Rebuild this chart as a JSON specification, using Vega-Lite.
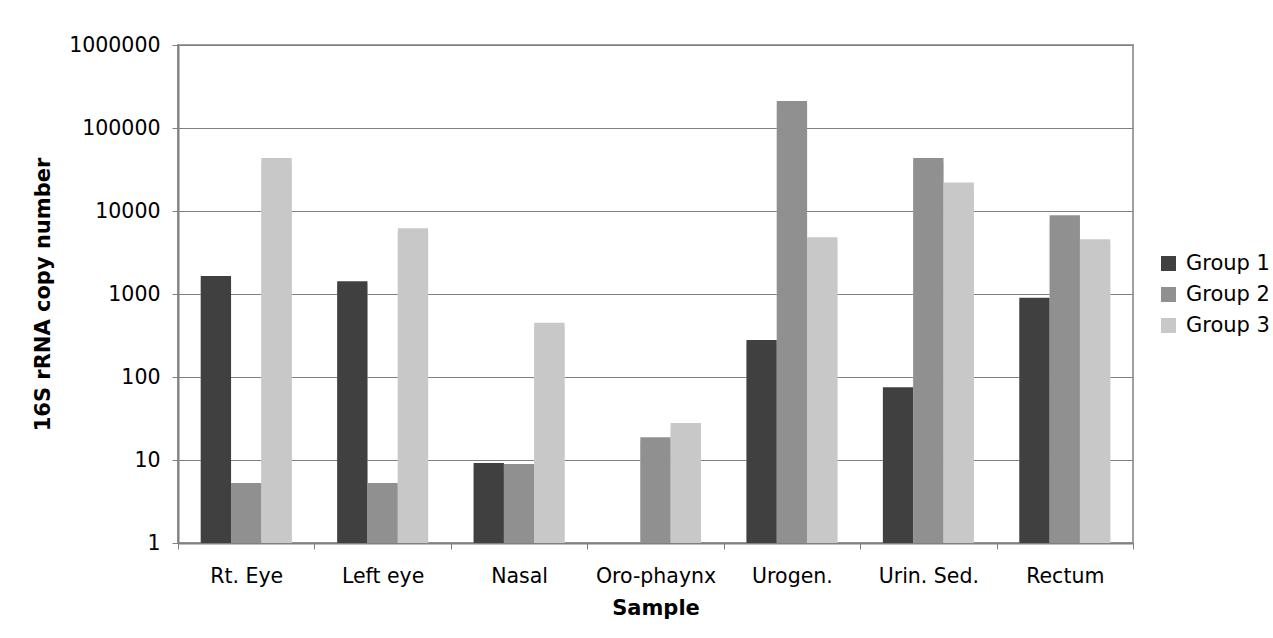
{
  "$schema": "https://vega.github.io/schema/vega-lite/v6.json",
  "width": 955,
  "height": 498,
  "autosize": {"type": "none"},
  "padding": {"left": 178, "top": 45, "right": 140, "bottom": 95},
  "background": "white",
  "config": {
    "font": "DejaVu Sans",
    "view": {"stroke": "#a0a0a0", "strokeWidth": 2},
    "axis": {"labelFont": "DejaVu Sans", "titleFont": "DejaVu Sans"}
  },
  "data": {
    "values": [
      {"sample": "Rt. Eye", "group": "Group 1", "value": 1650},
      {"sample": "Rt. Eye", "group": "Group 2", "value": 5.3},
      {"sample": "Rt. Eye", "group": "Group 3", "value": 43500},
      {"sample": "Left eye", "group": "Group 1", "value": 1420},
      {"sample": "Left eye", "group": "Group 2", "value": 5.3},
      {"sample": "Left eye", "group": "Group 3", "value": 6190},
      {"sample": "Nasal", "group": "Group 1", "value": 9.2},
      {"sample": "Nasal", "group": "Group 2", "value": 8.95},
      {"sample": "Nasal", "group": "Group 3", "value": 451},
      {"sample": "Oro-phaynx", "group": "Group 2", "value": 18.8},
      {"sample": "Oro-phaynx", "group": "Group 3", "value": 27.9},
      {"sample": "Urogen.", "group": "Group 1", "value": 279},
      {"sample": "Urogen.", "group": "Group 2", "value": 211000},
      {"sample": "Urogen.", "group": "Group 3", "value": 4820},
      {"sample": "Urin. Sed.", "group": "Group 1", "value": 75},
      {"sample": "Urin. Sed.", "group": "Group 2", "value": 43500},
      {"sample": "Urin. Sed.", "group": "Group 3", "value": 22100},
      {"sample": "Rectum", "group": "Group 1", "value": 903},
      {"sample": "Rectum", "group": "Group 2", "value": 8870},
      {"sample": "Rectum", "group": "Group 3", "value": 4560}
    ]
  },
  "encoding": {
    "x": {
      "field": "sample",
      "type": "nominal",
      "sort": ["Rt. Eye", "Left eye", "Nasal", "Oro-phaynx", "Urogen.", "Urin. Sed.", "Rectum"],
      "scale": {"paddingInner": 0, "paddingOuter": 0},
      "axis": {
        "title": "Sample",
        "titleFontSize": 21,
        "titleFontWeight": "bold",
        "titleColor": "black",
        "titlePadding": 11,
        "labelFontSize": 20.5,
        "labelColor": "black",
        "labelAngle": 0,
        "labelPadding": 17,
        "tickBand": "extent",
        "tickSize": 6,
        "tickColor": "#808080",
        "domainColor": "#808080",
        "domainWidth": 2
      }
    },
    "xOffset": {"field": "group", "type": "nominal", "scale": {"paddingInner": 0, "paddingOuter": 0.75}},
    "y": {
      "field": "value",
      "type": "quantitative",
      "stack": null,
      "scale": {"type": "log", "domain": [1, 1000000], "nice": false},
      "axis": {
        "title": "16S rRNA copy number",
        "titleFontSize": 21,
        "titleFontWeight": "bold",
        "titleColor": "black",
        "titlePadding": 15,
        "labelFontSize": 20.5,
        "labelColor": "black",
        "labelPadding": 12,
        "values": [1, 10, 100, 1000, 10000, 100000, 1000000],
        "format": "d",
        "grid": true,
        "gridColor": "#808080",
        "gridOpacity": 1,
        "tickSize": 6,
        "tickColor": "#808080",
        "domainColor": "#808080",
        "domainWidth": 2
      }
    },
    "y2": {"datum": 1}
  },
  "layer": [
    {
      "mark": {"type": "bar", "color": "#d2d2d2", "xOffset": 4, "yOffset": 4, "clip": true},
      "encoding": {}
    },
    {
      "mark": {"type": "bar"},
      "encoding": {
        "color": {
          "field": "group",
          "type": "nominal",
          "scale": {"domain": ["Group 1", "Group 2", "Group 3"], "range": ["#404040", "#909090", "#c8c8c8"]},
          "legend": {
            "title": null,
            "orient": "none",
            "legendX": 980,
            "legendY": 208,
            "symbolType": "square",
            "symbolSize": 225,
            "symbolStrokeWidth": 0,
            "labelFontSize": 21,
            "labelColor": "black",
            "rowPadding": 9,
            "labelOffset": 7
          }
        }
      }
    }
  ]
}
